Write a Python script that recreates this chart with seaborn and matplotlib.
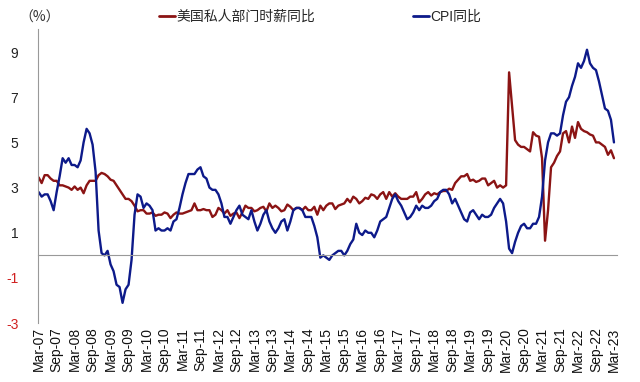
import pandas as pd
import matplotlib
matplotlib.use("Agg")
import matplotlib.pyplot as plt
import seaborn as sns

# monthly data, Mar-07 .. Mar-23 (one line per year)
cpi_yoy = [
    2.8, 2.6, 2.7, 2.7, 2.4, 2.0, 2.8, 3.5, 4.3, 4.1,
    4.3, 4.0, 4.0, 3.9, 4.2, 5.0, 5.6, 5.4, 4.9, 3.7, 1.1, 0.1,
    0.0, 0.2, -0.4, -0.7, -1.3, -1.4, -2.1, -1.5, -1.3, -0.2, 1.8, 2.7,
    2.6, 2.1, 2.3, 2.2, 2.0, 1.1, 1.2, 1.1, 1.1, 1.2, 1.1, 1.5,
    1.6, 2.1, 2.7, 3.2, 3.6, 3.6, 3.6, 3.8, 3.9, 3.5, 3.4, 3.0,
    2.9, 2.9, 2.7, 2.3, 1.7, 1.7, 1.4, 1.7, 2.0, 2.2, 1.8, 1.7,
    1.6, 2.0, 1.5, 1.1, 1.4, 1.8, 2.0, 1.5, 1.2, 1.0, 1.2, 1.5,
    1.6, 1.1, 1.5, 2.0, 2.1, 2.1, 2.0, 1.7, 1.7, 1.7, 1.3, 0.8,
    -0.1, 0.0, -0.1, -0.2, 0.0, 0.1, 0.2, 0.2, 0.0, 0.2, 0.5, 0.7,
    1.4, 1.0, 0.9, 1.1, 1.0, 1.0, 0.8, 1.1, 1.5, 1.6, 1.7, 2.1,
    2.5, 2.7, 2.4, 2.2, 1.9, 1.6, 1.7, 1.9, 2.2, 2.0, 2.2, 2.1,
    2.1, 2.2, 2.4, 2.5, 2.8, 2.9, 2.9, 2.7, 2.3, 2.5, 2.2, 1.9,
    1.6, 1.5, 1.9, 2.0, 1.8, 1.6, 1.8, 1.7, 1.7, 1.8, 2.1, 2.3,
    2.5, 2.3, 1.5, 0.3, 0.1, 0.6, 1.0, 1.3, 1.4, 1.2, 1.2, 1.4,
    1.4, 1.7, 2.6, 4.2, 5.0, 5.4, 5.4, 5.3, 5.4, 6.2, 6.8, 7.0,
    7.5, 7.9, 8.5, 8.3, 8.6, 9.1, 8.5, 8.3, 8.2, 7.7, 7.1, 6.5,
    6.4, 6.0, 5.0,
]

wage_yoy = [
    3.45, 3.2, 3.55, 3.55, 3.4, 3.3, 3.3, 3.1, 3.1, 3.05,
    3.0, 2.9, 3.05, 2.9, 3.0, 2.75, 3.1, 3.3, 3.3, 3.3, 3.55, 3.65,
    3.6, 3.5, 3.35, 3.3, 3.1, 2.9, 2.7, 2.5, 2.5, 2.4, 2.2, 1.95,
    2.0, 2.0, 1.85, 1.85, 1.9, 1.75, 1.8, 1.8, 1.9, 1.85, 1.65, 1.8,
    1.9, 1.85, 1.85, 1.9, 1.95, 2.0, 2.3, 2.0, 2.0, 2.05, 2.0, 2.0,
    1.7, 1.8, 2.1, 2.0, 1.85, 2.0, 1.75, 1.85, 1.9, 1.65, 1.9, 2.2,
    2.1, 2.1, 1.95, 2.0, 2.1, 2.15, 1.95, 2.3, 2.1, 2.2, 2.1, 1.95,
    2.0, 2.25, 2.15, 2.0, 2.1, 2.1, 2.0, 2.15, 2.0, 2.0, 2.15, 1.8,
    2.2, 2.0, 2.2, 2.3, 2.3, 2.05, 2.2, 2.25, 2.3, 2.5, 2.35, 2.6,
    2.5, 2.3, 2.4, 2.55, 2.5, 2.7, 2.65, 2.5, 2.7, 2.8, 2.5, 2.8,
    2.6, 2.75, 2.6, 2.5, 2.5, 2.5, 2.6, 2.6, 2.8, 2.35, 2.5, 2.7,
    2.8, 2.65, 2.75, 2.7, 2.8, 2.85, 2.85, 2.95, 2.9, 3.2, 3.35, 3.5,
    3.5, 3.6, 3.3, 3.35, 3.25, 3.3, 3.4, 3.4, 3.1, 3.2, 3.3, 3.0,
    3.1, 3.0, 3.1, 8.1, 6.6, 5.1, 4.9, 4.8, 4.8, 4.7, 4.6, 5.45,
    5.3, 5.25, 4.3, 0.65, 2.0, 3.9, 4.1, 4.4, 4.6, 5.4, 5.5, 5.0,
    5.7, 5.2, 5.9, 5.6, 5.5, 5.45, 5.35, 5.3, 5.0, 5.0, 4.9, 4.8,
    4.45, 4.65, 4.3,
]

wage_name = "美国私人部门时薪同比"
cpi_name = "CPI同比"
yticks = [-3, -1, 1, 3, 5, 7, 9]

months = pd.date_range("2007-03-01", periods=len(cpi_yoy), freq="MS")
df = pd.DataFrame({
    "m": list(range(len(months))) * 2,
    "value": wage_yoy + cpi_yoy,
    "series": [wage_name] * len(months) + [cpi_name] * len(months),
})

sns.set_style("white")
plt.rcParams["font.family"] = ["Liberation Sans", "Noto Sans CJK SC", "DejaVu Sans"]

fig = plt.figure(figsize=(6.4, 3.82), dpi=100)
ax = fig.add_axes([0.059, 0.154, 0.905, 0.769])

palette = {wage_name: "#8B1414", cpi_name: "#0D1A8A"}
sns.lineplot(data=df, x="m", y="value", hue="series", palette=palette,
             linewidth=1.7, ax=ax, legend=False)

ax.set_xlim(-0.3, 193)
ax.set_ylim(-3, 10)
ax.set_xlabel("")
ax.set_ylabel("")

# y axis
ax.set_yticks(yticks)
ax.set_yticklabels([str(t) for t in yticks], fontsize=10)
for lab, t in zip(ax.get_yticklabels(), yticks):
    lab.set_color("#D02020" if t < 0 else "#222222")
ax.tick_params(axis="y", direction="in", length=3, color="#999999", pad=14)

# x axis line sits on zero, labels at the bottom
tick_pos = list(range(0, len(months), 6))
tick_lab = [months[i].strftime("%b-%y") for i in tick_pos]
ax.spines["bottom"].set_position(("data", 0))
ax.spines["bottom"].set_color("#999999")
ax.spines["left"].set_color("#999999")
ax.spines["top"].set_visible(False)
ax.spines["right"].set_visible(False)
ax.set_xticks(tick_pos)
ax.tick_params(axis="x", direction="in", length=4, color="#999999", labelbottom=False)

sec = ax.secondary_xaxis(0.0)
sec.set_xticks(tick_pos)
sec.set_xticklabels(tick_lab, rotation=90, fontsize=10, color="#111111")
sec.tick_params(length=0, pad=3)
sec.spines["bottom"].set_visible(False)

fig.text(0.03, 0.955, "（%）", fontsize=10, color="#333333", ha="left", va="center",
         family=["Noto Sans CJK SC", "DejaVu Sans"])

handles = [plt.Line2D([], [], color=palette[wage_name], lw=2),
           plt.Line2D([], [], color=palette[cpi_name], lw=2)]
fig.legend(handles, [wage_name, cpi_name], loc="center", bbox_to_anchor=(0.5, 0.955),
           ncol=2, frameon=False, fontsize=10, handlelength=1.2, handletextpad=0.1,
           columnspacing=7)

fig.savefig("out.png", dpi=100)
